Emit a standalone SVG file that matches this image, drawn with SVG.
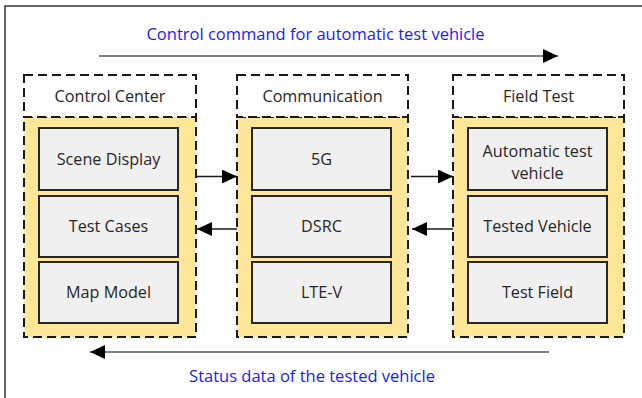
<svg xmlns="http://www.w3.org/2000/svg" width="642" height="398" viewBox="0 0 642 398">
<defs>
<style>
.frame{fill:none;stroke:#333;stroke-width:1.5}
.hdr{fill:#fff;stroke:#1a1a1a;stroke-width:2;stroke-dasharray:9 5}
.body{fill:#FFE699;stroke:#1a1a1a;stroke-width:2;stroke-dasharray:9 5}
.box{fill:#F0F0F0;stroke:#262626;stroke-width:2}
.t{font-family:"Open Sans","Noto Sans",sans-serif;font-size:16.2px;fill:#262626;text-anchor:middle}
.blue{font-family:"Open Sans","Noto Sans",sans-serif;font-size:16.5px;fill:#1a1aff;text-anchor:middle}
.ln{fill:none;stroke:#1a1a1a;stroke-width:1.3}
.lng{fill:none;stroke:#555;stroke-width:1.5}
</style>
<marker id="ah" markerUnits="userSpaceOnUse" markerWidth="16" markerHeight="14" refX="15" refY="7" orient="auto">
<path d="M0,0 L15,7 L0,14 Z" fill="#000"/>
</marker>
</defs>
<rect width="642" height="398" fill="#fff"/>
<path class="frame" d="M5,398 V6 H642"/>
<text class="blue" x="315.5" y="40">Control command for automatic test vehicle</text>
<text class="blue" x="312" y="382">Status data of the tested vehicle</text>
<g id="control-center">
<rect class="body" x="24" y="117" width="172" height="220"/>
<rect class="hdr" x="24" y="75" width="172" height="42"/>
<text class="t" x="110" y="102">Control Center</text>
<rect class="box" x="39" y="128" width="139" height="62"/>
<text class="t" x="108.5" y="165">Scene Display</text>
<rect class="box" x="39" y="196" width="139" height="61"/>
<text class="t" x="108.5" y="232">Test Cases</text>
<rect class="box" x="39" y="262" width="139" height="61"/>
<text class="t" x="108.5" y="298">Map Model</text>
</g>
<g id="communication">
<rect class="body" x="237" y="117" width="171" height="220"/>
<rect class="hdr" x="237" y="75" width="171" height="42"/>
<text class="t" x="322.5" y="102">Communication</text>
<rect class="box" x="252" y="128" width="139" height="62"/>
<text class="t" x="321.5" y="165">5G</text>
<rect class="box" x="252" y="196" width="139" height="61"/>
<text class="t" x="321.5" y="232">DSRC</text>
<rect class="box" x="252" y="262" width="139" height="61"/>
<text class="t" x="321.5" y="298">LTE-V</text>
</g>
<g id="field-test">
<rect class="body" x="453" y="117" width="171" height="220"/>
<rect class="hdr" x="453" y="75" width="171" height="42"/>
<text class="t" x="538.5" y="102">Field Test</text>
<rect class="box" x="468" y="128" width="139" height="62"/>
<text class="t" x="537.5" y="157">Automatic test</text>
<text class="t" x="537.5" y="179">vehicle</text>
<rect class="box" x="468" y="196" width="139" height="61"/>
<text class="t" x="537.5" y="232">Tested Vehicle</text>
<rect class="box" x="468" y="262" width="139" height="61"/>
<text class="t" x="537.5" y="298">Test Field</text>
</g>
<g id="connectors">
<path class="lng" d="M99,56 H558" marker-end="url(#ah)"/>
<path class="lng" d="M549,352 H90" marker-end="url(#ah)"/>
<path class="ln" d="M196,176.5 H237" marker-end="url(#ah)"/>
<path class="ln" d="M237,229 H197" marker-end="url(#ah)"/>
<path class="ln" d="M411,176.5 H453" marker-end="url(#ah)"/>
<path class="ln" d="M453,229 H412" marker-end="url(#ah)"/>
</g>
</svg>
